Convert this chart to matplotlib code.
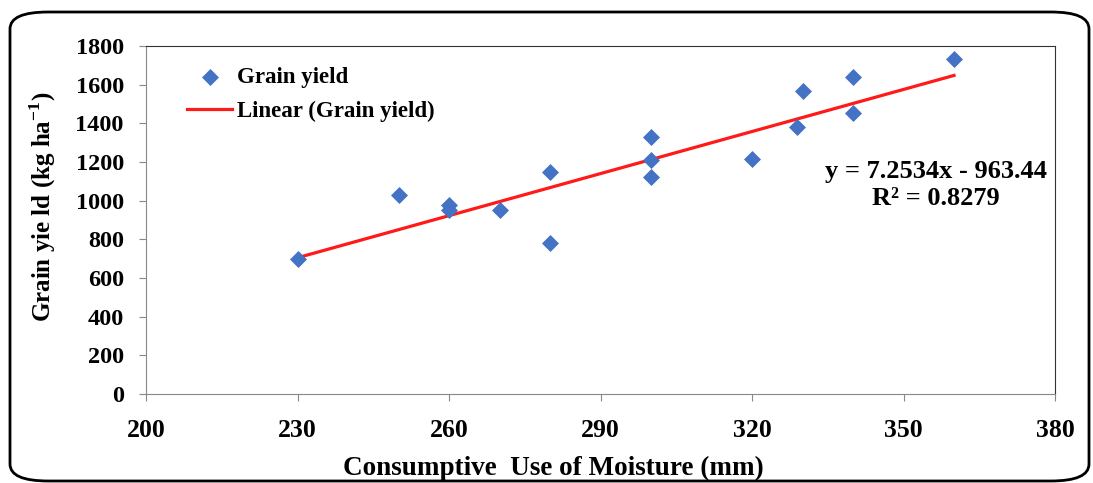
import numpy as np
import matplotlib.pyplot as plt
from matplotlib.patches import FancyBboxPatch

plt.rcParams['font.family'] = 'Liberation Serif'
plt.rcParams['font.weight'] = 'bold'
plt.rcParams['mathtext.fontset'] = 'custom'
plt.rcParams['mathtext.rm'] = 'Liberation Serif:bold'
plt.rcParams['mathtext.bf'] = 'Liberation Serif:bold'

# consumptive use of moisture (mm) vs grain yield (kg/ha)
moisture = [230, 250, 260, 260, 270, 280, 280, 300, 300, 300, 320, 329, 330, 340, 340, 360]
grain_yield = [697, 1029, 978, 952, 952, 1150, 780, 1331, 1210, 1124, 1218, 1380, 1566, 1641, 1454, 1733]

# trend line from the equation shown on the chart
slope = 7.2534
intercept = -963.44
r2 = 0.8279

x_ticks = [200, 230, 260, 290, 320, 350, 380]
y_ticks = [0, 200, 400, 600, 800, 1000, 1200, 1400, 1600, 1800]

fig = plt.figure(figsize=(10.93, 4.83), dpi=100)
ax = fig.add_axes([146 / 1093, 1 - 394 / 483, (1055 - 146) / 1093, (394 - 46) / 483])

ax.scatter(moisture, grain_yield, marker='D', s=75, color='#4472C4', zorder=3,
           linewidths=0, label='Grain yield')
xf = np.array([min(moisture), max(moisture)])
ax.plot(xf, slope * xf + intercept, color='#FF1A1A', lw=2.3, zorder=2,
        label='Linear (Grain yield)')

ax.set_xlim(200, 380)
ax.set_ylim(0, 1800)
ax.set_xticks(x_ticks)
ax.set_yticks(y_ticks)
ax.tick_params(axis='both', length=5, color='#888888', direction='out')
ax.tick_params(axis='y', labelsize=17.5, pad=11)
ax.tick_params(axis='x', labelsize=18.5, pad=13)
for s in ['left', 'bottom']:
    ax.spines[s].set_color('#888888')
for s in ['top', 'right']:
    ax.spines[s].set_color('#333333')

ax.set_xlabel('Consumptive  Use of Moisture (mm)', fontsize=19.5, fontweight='bold')
ax.xaxis.set_label_coords(0.448, -0.178)
ax.set_ylabel(r'Grain yie ld (kg ha$^{-1}$)', fontsize=18, fontweight='bold')
ax.yaxis.set_label_coords(-0.097, 0.537)

ax.legend(loc='upper left', bbox_to_anchor=(0.022, 0.998), frameon=False,
          handlelength=2.0, handletextpad=0.2, labelspacing=0.55,
          prop={'weight': 'bold', 'size': 16.5})

ax.text(356.5, 1080, f'y = {slope}x - {abs(intercept)}\nR² = {r2}', fontsize=19,
        fontweight='bold', ha='center', va='center', linespacing=1.2)

border = FancyBboxPatch((10 / 1093, 2 / 483), (1089 - 10) / 1093, (471 - 2) / 483,
                        boxstyle='round,pad=0,rounding_size=0.035',
                        transform=fig.transFigure, fill=False, edgecolor='black', lw=2)
fig.patches.append(border)

fig.savefig('out.png', dpi=100)
